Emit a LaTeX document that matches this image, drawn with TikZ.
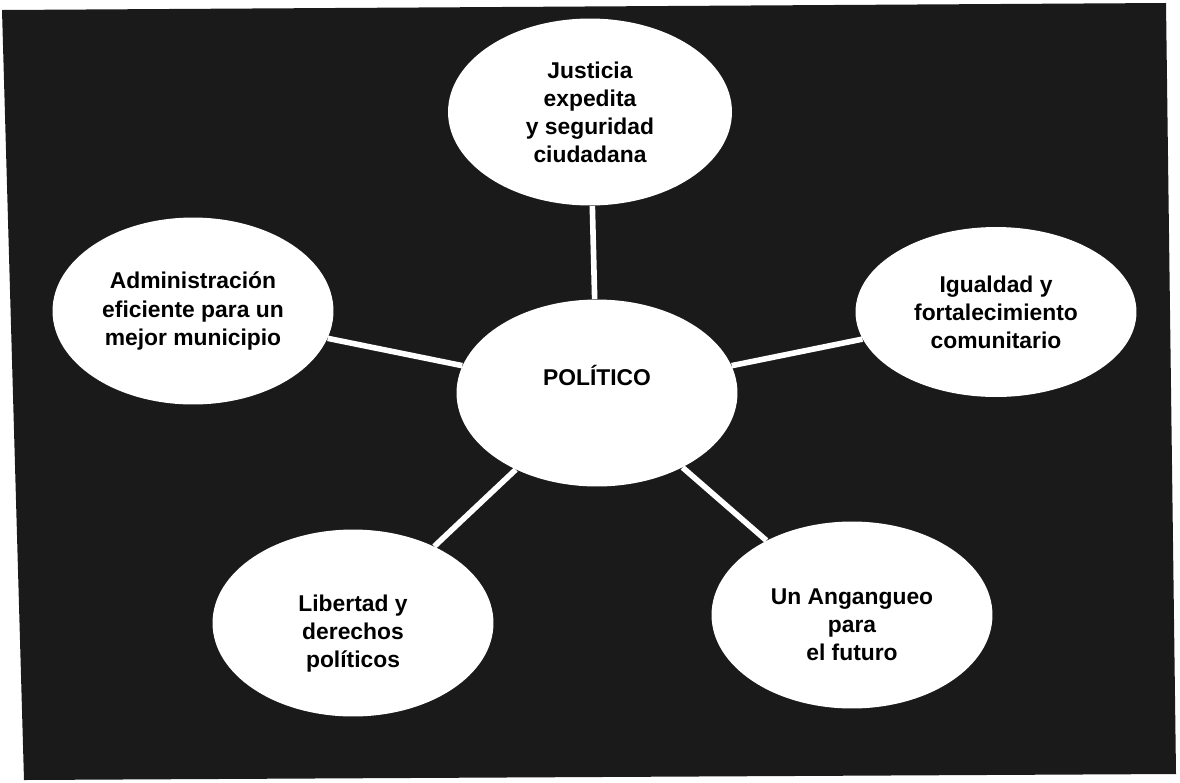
\documentclass[tikz,border=0pt]{standalone}
\usepackage{fontspec}
\setmainfont{Liberation Sans}
\usepackage{tikz}
\usetikzlibrary{shapes.geometric}
\definecolor{scanblack}{RGB}{26,26,26}

\begin{document}
\begin{tikzpicture}[
    x=0.02cm, y=-0.02cm,
    font=\fontsize{13}{16}\selectfont\bfseries,
    bubble/.style={ellipse, fill=white, inner sep=0pt, align=center,
        minimum width=5.62cm, minimum height=3.74cm},
    link/.style={white, line width=3.2pt}
]
\useasboundingbox (0,0) rectangle (1180,782);
% dark scanned backdrop
\fill[scanblack] (2,10) -- (1166,3) -- (1176,774) -- (24,780) -- cycle;

% centre
\node[bubble, label={[yshift=0.36cm]center:POLÍTICO}] (politico) at (597,393) {};

% themes around it
\node[bubble, minimum width=5.68cm] (justicia) at (590,112)
    {Justicia\\expedita\\y seguridad\\ciudadana};
\node[bubble] (admin) at (193,311)
    {Administración\\eficiente para un\\mejor municipio};
\node[bubble, minimum height=3.4cm] (igualdad) at (996,312)
    {Igualdad y\\fortalecimiento\\comunitario};
\node[bubble, label={[yshift=-0.22cm]center:{\begin{tabular}{c}Libertad y\\derechos\\políticos\end{tabular}}}]
    (libertad) at (353,623) {};
\node[bubble, label={[yshift=-0.24cm]center:{\begin{tabular}{c}Un Angangueo\\para\\el futuro\end{tabular}}}]
    (futuro) at (852,615) {};

\draw[link] (politico) -- (justicia);
\draw[link] (politico) -- (admin);
\draw[link] (politico) -- (igualdad);
\draw[link] (politico) -- (libertad);
\draw[link] (politico) -- (futuro);
\end{tikzpicture}
\end{document}
